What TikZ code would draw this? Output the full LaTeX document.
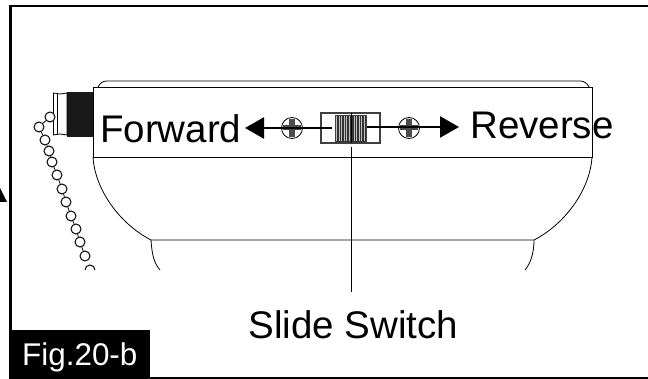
\documentclass[tikz,border=0pt]{standalone}
\usepackage{fontspec}
\setmainfont{Liberation Sans}
\usetikzlibrary{arrows.meta,positioning,calc}
\begin{document}
\begin{tikzpicture}[
    x=1pt, y=-1pt,
    bodyline/.style={draw=black, line width=0.8pt},
    bead/.style={circle, draw=black, fill=white, line width=1pt, inner sep=0pt, minimum size=10pt},
    screw/.style={circle, draw=black, line width=0.8pt, inner sep=0pt, minimum size=21pt},
    callout/.style={inner sep=0pt, font=\fontsize{38.5}{38.5}\selectfont},
    arr/.style={-{Triangle[length=19pt,width=21pt]}, line width=2.4pt}
  ]
    \useasboundingbox (0,0) rectangle (648,379);
    \draw[line width=2.6pt] (10.5,379) -- (10.5,6) -- (648,6);
    \draw[line width=1.6pt] (10.5,378) -- (648,378);
    % housing
    \draw[bodyline] (98,87) .. controls (100,83) and (103,81) .. (107,81) -- (580,81) .. controls (584,81) and (587,83) .. (589,87);
    \draw[bodyline] (93,87) rectangle (592,157);
    \draw[bodyline] (93,157) .. controls (95,190) and (120,224) .. (151,240) -- (534,240) .. controls (565,224) and (590,190) .. (592,157);
    \draw[bodyline] (151,240) .. controls (152,255) and (154,263) .. (160,270);
    \draw[bodyline] (534,240) .. controls (534,252) and (531,263) .. (525,270);
    % connector
    \node[fill=black!90, inner sep=0pt, minimum width=26pt, minimum height=45pt] (knurl) at (80,114.5) {};
    \draw[bodyline] (53.5,93) -- (60,94) -- (67,93) -- (67,135) -- (60,134) -- (53.5,135) -- cycle;
    \draw[bodyline] (57,94) -- (57,134);
    % chain
    \foreach \nm/\px/\py in {b/39/127, c/45/140, d/49/151, e/52/162, f/57/175, g/62/189, h/66/202, i/71/216, j/76/229, k/80/242, l/85/256}
      \node[bead] (\nm) at (\px,\py) {};
    \node[bead] (a) at (50,117) {};
    \draw[bodyline] (a) -- (b);
    \draw[bodyline] (b) -- (c);
    \draw[bodyline] (c) -- (d);
    \draw[bodyline] (d) -- (e);
    \draw[bodyline] (e) -- (f);
    \draw[bodyline] (f) -- (g);
    \draw[bodyline] (g) -- (h);
    \draw[bodyline] (h) -- (i);
    \draw[bodyline] (i) -- (j);
    \draw[bodyline] (j) -- (k);
    \draw[bodyline] (k) -- (l);
    \draw[line width=1pt] (85,270) arc[start angle=180, end angle=0, radius=5pt];
    % switch
    \node[draw=black!75, line width=1.2pt, minimum width=59pt, minimum height=30pt, inner sep=0pt] (switch) at (350.5,128) {};
    \node[draw=black!75, fill=black!80, line width=0.8pt, minimum width=31pt, minimum height=27pt, inner sep=0pt] (slider) at (350.5,128.5) {};
    \foreach \d in {-14,-11.5,...,14}
      \draw[black!25, line width=0.6pt] (350.5+\d,116) -- (350.5+\d,141);
    \draw[bodyline] (351,113) -- (351,143);
    % screws
    \node[screw] (lscrew) at (292,128) {};
    \node[screw] (rscrew) at (409,128) {};
    \foreach \c in {lscrew,rscrew} {
      \fill[black!70] ($(\c)+(-9,-2.5)$) rectangle ($(\c)+(9,2.5)$);
      \fill[black!70] ($(\c)+(-3,-9)$) rectangle ($(\c)+(3,9)$);
    }
    % labels
    \node[callout, anchor=base west] (forward) at (100,143) {Forward};
    \node[callout, anchor=base west] (reverse) at (470,139) {Reverse};
    \node[callout, anchor=base] (slide) at (353.5,338) {Slide Switch};
    \node[fill=black, text=white, inner sep=0pt, minimum width=138pt, minimum height=48pt, anchor=south west, font=\fontsize{31.4}{31.4}\selectfont] (fig) at (12,378) {};
    \node[text=white, inner sep=0pt, anchor=base west, font=\fontsize{31.4}{31.4}\selectfont] (figlabel) at (22,365) {Fig.20-b};
    % arrows
    \coordinate (ltip) at (245,128);
    \coordinate (rtip) at (459,127);
    \draw[arr] (332,128) -- (ltip);
    \draw[arr] (367,127) -- (rtip);
    \coordinate (leadtop) at (351,147);
    \coordinate (leadend) at (351,292);
    \draw[bodyline] (leadtop) -- (leadend);
    % corner of the neighbouring arrow
    \fill (0,188) -- (7,202) -- (0,202) -- cycle;
\end{tikzpicture}
\end{document}
